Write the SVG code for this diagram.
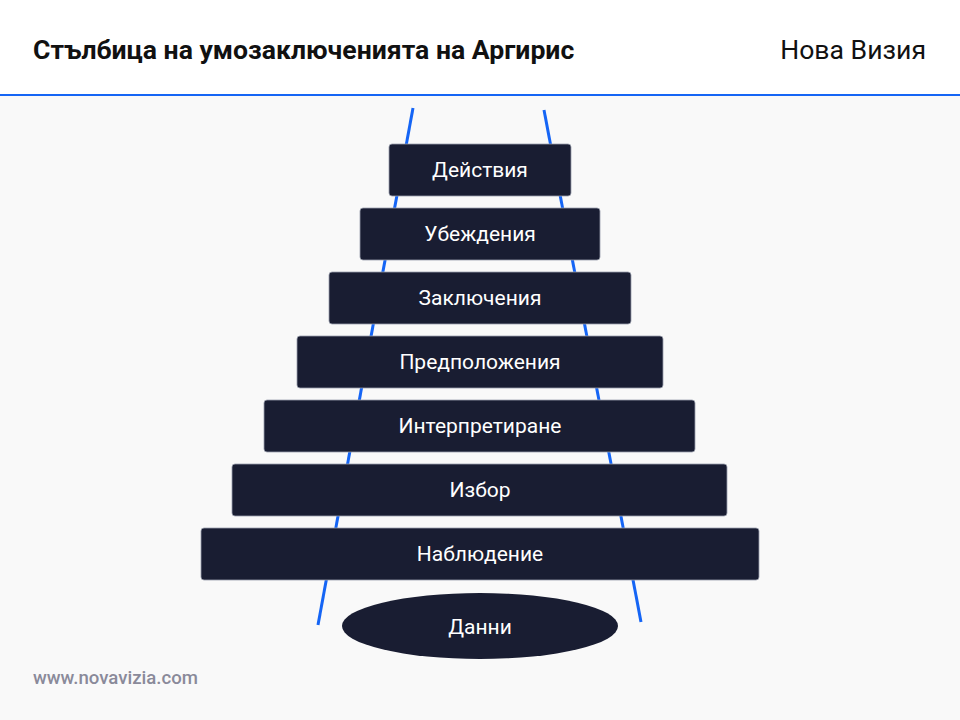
<svg xmlns="http://www.w3.org/2000/svg" width="960" height="720" viewBox="0 0 960 720">
<style>
.bg{fill:#f9f9f9}
.step{fill:#191d32;stroke:#9aa0ad;stroke-width:0.8}
.lbl{font-family:Roboto,"Liberation Sans",sans-serif;font-size:21px;fill:#ffffff;text-anchor:middle}
.side{stroke:#1565f5;stroke-width:3;fill:none}
</style>
<rect class="bg" x="0" y="0" width="960" height="720"/>
<rect x="0" y="0" width="960" height="95" fill="#ffffff"/>
<line x1="0" y1="95" x2="960" y2="95" stroke="#1565f5" stroke-width="2"/>
<text x="33" y="59" font-family="Roboto,'Liberation Sans',sans-serif" font-size="26.6" font-weight="bold" fill="#111111">Стълбица на умозаключенията на Аргирис</text>
<text x="926" y="59" font-family="Roboto,'Liberation Sans',sans-serif" font-size="26.6" fill="#111111" text-anchor="end">Нова Визия</text>
<g id="connectors">
<line class="side" x1="413" y1="108" x2="318" y2="625"/>
<line class="side" x1="544" y1="110" x2="641" y2="622"/>
</g>
<g id="n1"><rect class="step" x="389" y="144" width="182" height="52" rx="3"/><text class="lbl" x="480" y="177">Действия</text></g>
<g id="n2"><rect class="step" x="360" y="208" width="240" height="52" rx="3"/><text class="lbl" x="480" y="241">Убеждения</text></g>
<g id="n3"><rect class="step" x="329" y="272" width="302" height="52" rx="3"/><text class="lbl" x="480" y="305">Заключения</text></g>
<g id="n4"><rect class="step" x="297" y="336" width="366" height="52" rx="3"/><text class="lbl" x="480" y="369">Предположения</text></g>
<g id="n5"><rect class="step" x="264" y="400" width="431" height="52" rx="3"/><text class="lbl" x="480" y="433">Интерпретиране</text></g>
<g id="n6"><rect class="step" x="232" y="464" width="495" height="52" rx="3"/><text class="lbl" x="480" y="497">Избор</text></g>
<g id="n7"><rect class="step" x="201" y="528" width="558" height="52" rx="3"/><text class="lbl" x="480" y="561">Наблюдение</text></g>
<g id="n8"><ellipse cx="480" cy="626" rx="138" ry="33" fill="#191d32"/><text class="lbl" x="480" y="634">Данни</text></g>
<text x="33" y="684" font-family="Roboto,'Liberation Sans',sans-serif" font-size="18.6" font-weight="500" fill="#8a8a9a">www.novavizia.com</text>
</svg>
